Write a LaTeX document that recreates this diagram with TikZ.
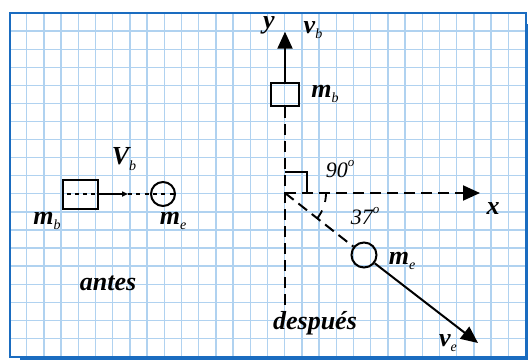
\documentclass[tikz,border=0pt]{standalone}
\usepackage{fontspec}
\setmainfont{Liberation Serif}
\usetikzlibrary{arrows.meta}
\definecolor{gridblue}{HTML}{B0D2F0}
\definecolor{frameblue}{HTML}{1A6CC0}
\newcommand\lbl[2]{#1\raisebox{-0.45ex}{\fontsize{14}{14}\selectfont\mdseries #2}}
\tikzset{
  gridline/.style={draw=gridblue, line width=1.3pt},
  frameline/.style={draw=frameblue, line width=2pt},
  massbox/.style={draw, line width=2pt, rectangle, inner sep=0pt},
  masscirc/.style={draw, line width=2pt, circle, inner sep=0pt},
  smalldash/.style={line width=1.6pt, dash pattern=on 4pt off 4.3pt},
  bigdash/.style={line width=2pt, dash pattern=on 11pt off 6pt},
  bigarrow/.style={line width=2pt, -{Triangle[length=17pt,width=15pt]}},
  smallarrow/.style={line width=1.6pt, -{Triangle[length=6pt,width=5pt]}},
  lab/.style={font=\fontsize{26}{26}\selectfont\bfseries\itshape, inner sep=0pt},
  anglab/.style={font=\fontsize{22}{22}\selectfont\itshape, inner sep=0pt}
}
\begin{document}
\begin{tikzpicture}[x=1pt,y=-1pt]
\useasboundingbox (0,0) rectangle (528,360);
\fill[white] (0,0) rectangle (528,360);
% grid
\foreach \i in {1,...,29} \draw[gridline] ({9.5+17.2*\i},13) -- ({9.5+17.2*\i},356.5);
\foreach \j in {1,...,18} \draw[gridline] (9.5,{13+18.08*\j}) -- (525.5,{13+18.08*\j});
% frame and shadow
\fill[frameblue] (524.5,24) rectangle (528,360);
\fill[frameblue] (20,355.5) rectangle (528,360);
\draw[frameline] (9.5,13) rectangle (525.5,356.5);

% ---- antes ----
\node[massbox, minimum width=35pt, minimum height=29pt] (mb1) at (80,194) {};
\node[masscirc, minimum size=24pt] (me1) at (163,194) {};
\coordinate (d1) at (66.5,194);
\coordinate (t1) at (128,194);
\coordinate (d2) at (176,194);
\draw[smalldash] (d1) -- (mb1.east);
\draw[smallarrow] (mb1.east) -- (t1);
\draw[smalldash] (t1) -- (d2);
\node[lab] (Vb) at (124,159) {\lbl{V}{b}};
\node[lab] (mbl1) at (47,221) {\lbl{m}{b}};
\node[lab] (mel1) at (173,221) {\lbl{m}{e}};
\node[lab] (antes) at (108,283) {antes};

% ---- despues ----
\coordinate (O) at (285,193);
\node[massbox, minimum width=28pt, minimum height=23pt] (mb2) at (285,94.5) {};
\coordinate (ytip) at (285,31.7);
\coordinate (ybot) at (285,307);
\draw[bigarrow] (mb2.north) -- (ytip);
\draw[bigdash] (mb2.south) -- (ybot);
\coordinate (xend) at (466,193);
\coordinate (xtip) at (480,193);
\draw[bigdash] (O) -- (xend);
\draw[bigarrow] ([xshift=-2pt]xend) -- (xtip);
\node[masscirc, minimum size=25pt] (me2) at (364,255) {};
\coordinate (vtip) at (478,343);
\draw[bigdash] (O) -- (me2);
\draw[bigarrow] (me2) -- (vtip);
% right angle
\draw[line width=2pt] (285,172) -- (307,172) -- (307,193);
% angle arc
\draw[line width=1.8pt, dash pattern=on 9pt off 9pt] (O) ++(0:41) arc[start angle=0, end angle=38, radius=41];

\node[lab] (ylab) at (269,25) {y};
\node[lab] (vbl) at (313,30) {\lbl{v}{b}};
\node[lab] (mbl2) at (325,94) {\lbl{m}{b}};
\node[anglab] (a90) at (340,169) {90\raisebox{1ex}{\fontsize{13}{13}\selectfont o}};
\node[lab] (xlab) at (493,209) {x};
\node[anglab] (a37) at (365,216) {37\raisebox{1ex}{\fontsize{13}{13}\selectfont o}};
\node[lab] (mel2) at (402,261) {\lbl{m}{e}};
\node[lab] (vel) at (448,343) {\lbl{v}{e}};
\node[lab] (desp) at (315,323) {después};
\end{tikzpicture}
\end{document}
